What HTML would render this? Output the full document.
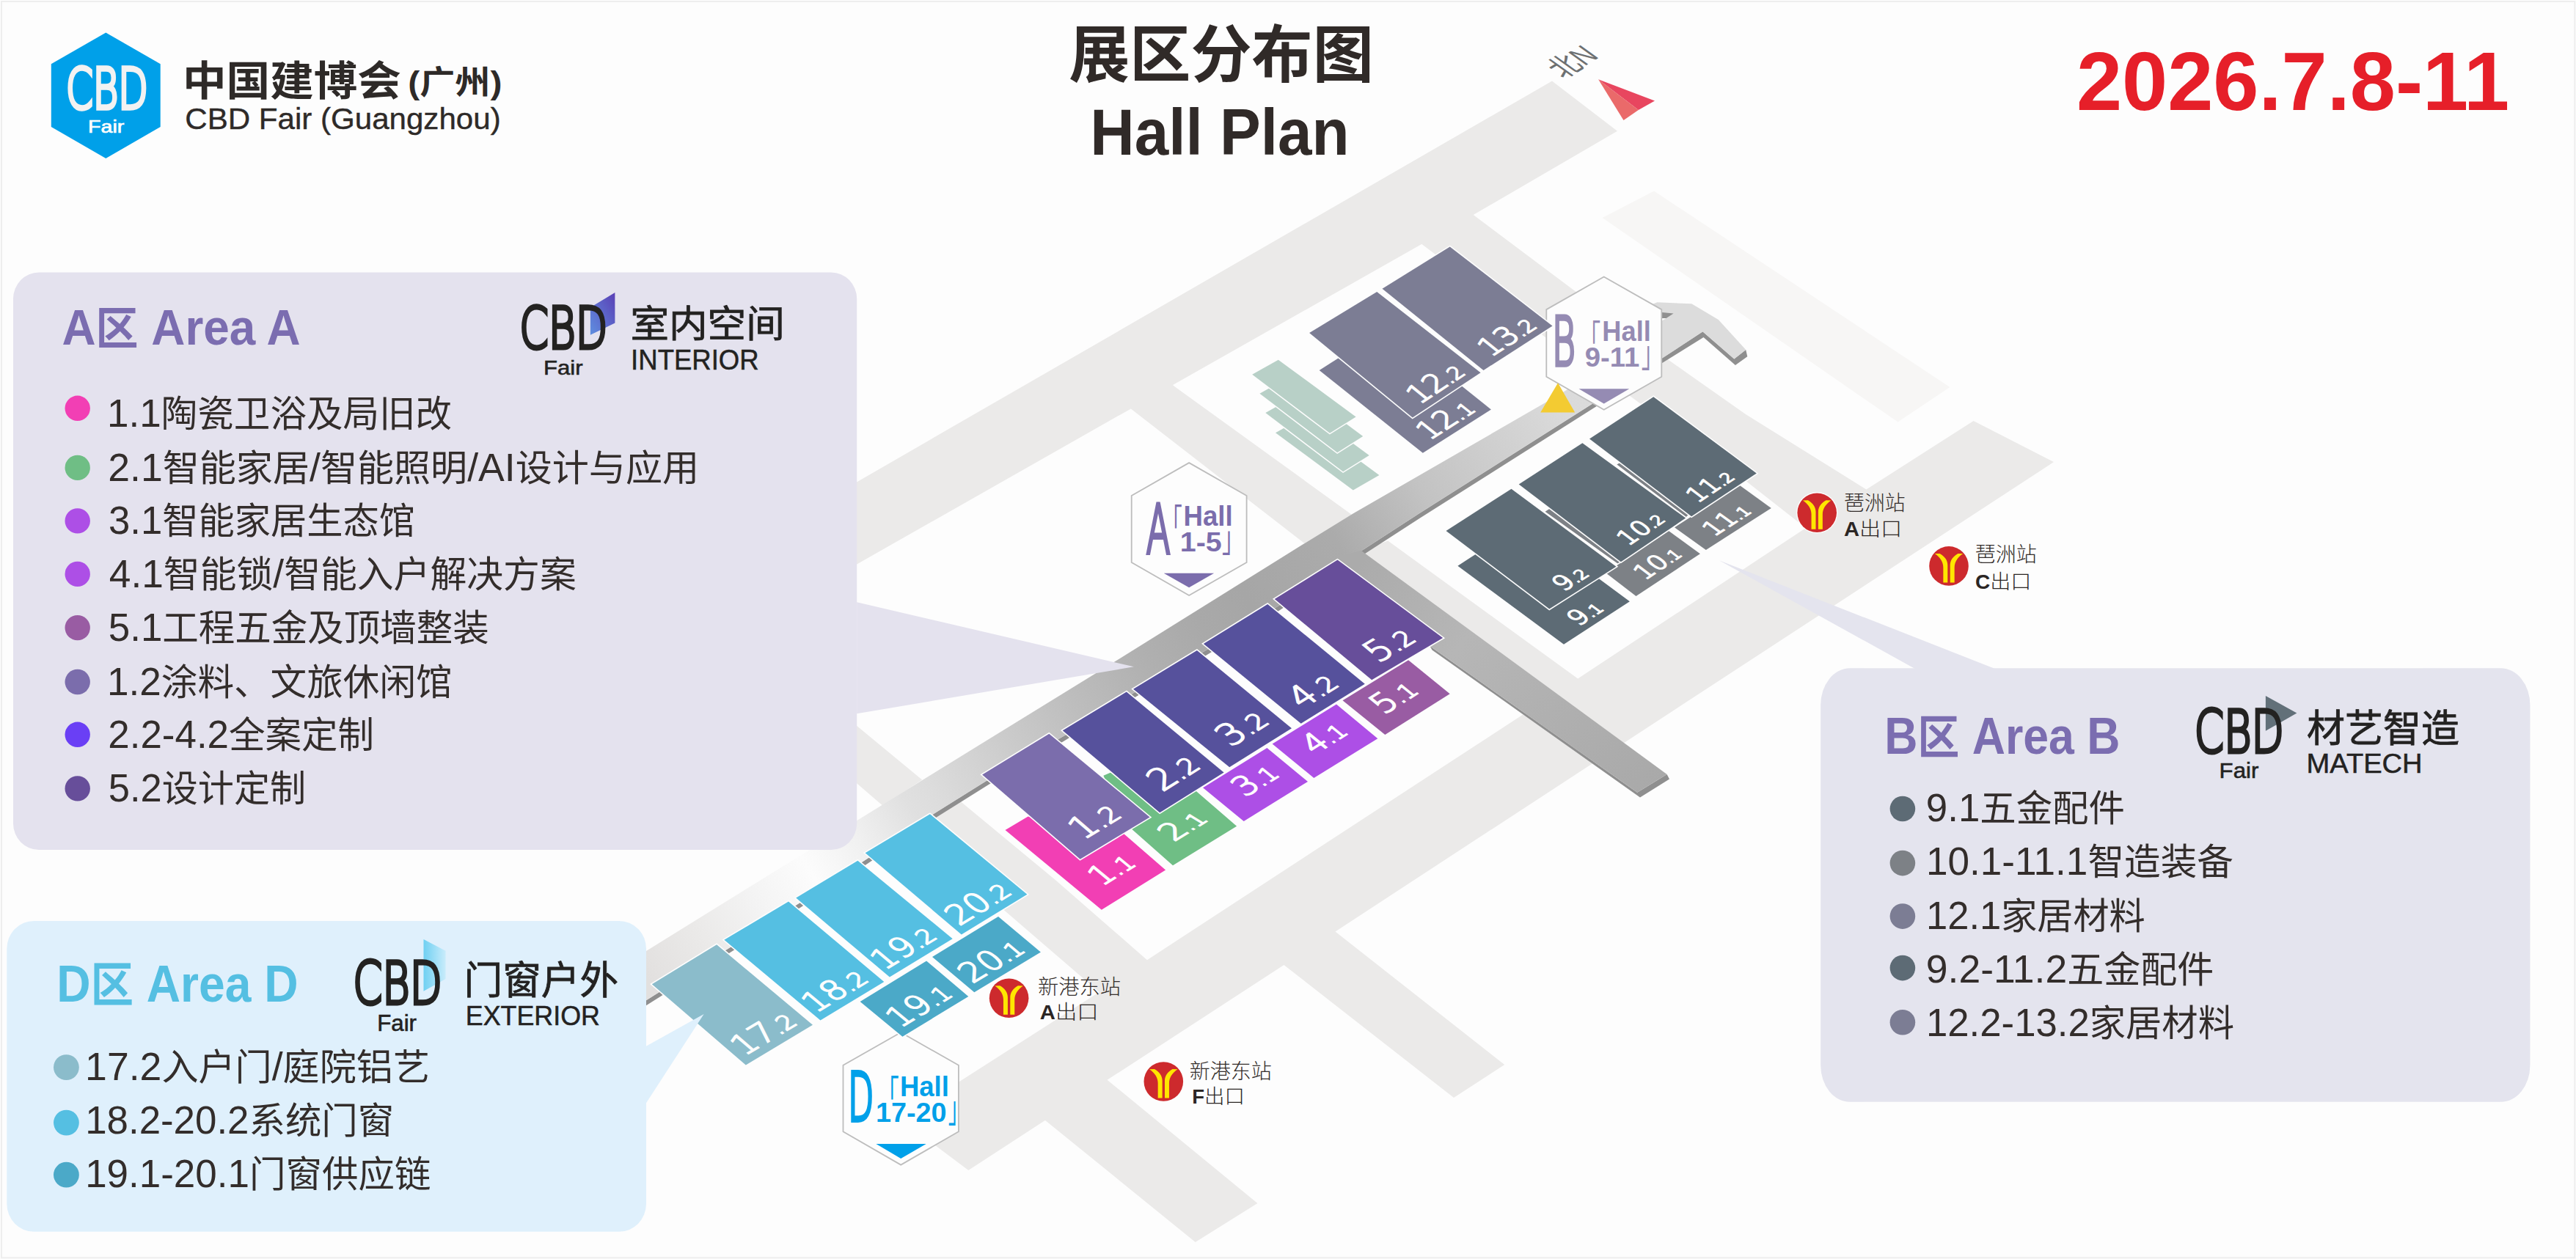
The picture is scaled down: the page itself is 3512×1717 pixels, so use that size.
<!DOCTYPE html>
<html lang="zh-CN"><head><meta charset="utf-8"><title>展区分布图 Hall Plan</title>
<style>
html,body{margin:0;padding:0;background:#fdfdfd;}
body{width:3512px;height:1717px;overflow:hidden;}
svg{display:block;}
text{white-space:pre;}
</style></head><body>
<svg width="3512" height="1717" viewBox="0 0 3512 1717">
<defs>
<linearGradient id="gc" gradientUnits="userSpaceOnUse" x1="880" y1="1330" x2="2250" y2="480"><stop offset="0" stop-color="#e2e0df"/><stop offset="0.06" stop-color="#ebeae9"/><stop offset="0.11" stop-color="#f3f3f3"/><stop offset="0.165" stop-color="#fcfcfc"/><stop offset="0.215" stop-color="#f0f0f0"/><stop offset="0.265" stop-color="#e0e0e0"/><stop offset="0.29" stop-color="#dcdcdc"/><stop offset="0.36" stop-color="#cccccc"/><stop offset="0.43" stop-color="#bdbdbd"/><stop offset="0.5" stop-color="#b0b0b0"/><stop offset="0.555" stop-color="#a9a9a9"/><stop offset="0.6" stop-color="#a6a6a6"/><stop offset="0.69" stop-color="#ababab"/><stop offset="0.775" stop-color="#c3c3c3"/><stop offset="0.845" stop-color="#cfcfcf"/><stop offset="0.91" stop-color="#dadada"/><stop offset="1" stop-color="#dddddd"/></linearGradient>
<linearGradient id="gb" gradientUnits="userSpaceOnUse" x1="1860" y1="760" x2="2260" y2="1070">
<stop offset="0" stop-color="#ababab"/><stop offset="0.35" stop-color="#b6b6b6"/><stop offset="1" stop-color="#a9a9a9"/>
</linearGradient>
<linearGradient id="gA" x1="0" y1="1" x2="1" y2="0"><stop offset="0" stop-color="#5f8fe0"/><stop offset="1" stop-color="#5a3fb5"/></linearGradient>
<linearGradient id="gD" x1="0" y1="0" x2="1" y2="0"><stop offset="0" stop-color="#6fd0f2"/><stop offset="1" stop-color="#c9ecfb"/></linearGradient>
</defs>
<rect x="0" y="0" width="3512" height="1717" fill="#fdfdfd"/>
<rect x="2" y="2" width="3508.3" height="1713.3" fill="none" stroke="#eeeeee" stroke-width="2"/>

<g id="roads">
<polygon points="2184.6,296.9 2255.1,260.6 2658.4,528.0 2587.5,575.6" fill="#f7f6f5" />
<path d="M1000.0,754.4 L2116.0,110.5 L2205.0,178.7 L2008.7,293.1 L1541.8,557.4 L1000.0,865.0 Z M1537.0,553.6 L1597.0,523.6 L1601.9,527.4 L1850.0,707.0 L1790.0,750.0 L1541.8,557.4 Z M1934.5,329.8 L2004.1,289.3 L2008.7,293.1 L2150.0,399.0 L2272.9,489.6 L2380.0,565.0 L2544.5,667.5 L2549.0,671.5 L2466.5,724.0 L2462.0,720.0 L2381.9,657.3 L2221.8,539.7 L2160.0,500.0 L1939.1,333.6 Z M2544.5,667.5 L2690.6,574.1 L2800.0,630.1 L1820.5,1270.4 L1320.3,1596.0 L1269.4,1557.7 L1307.7,1475.2 L1498.6,1353.0 L1563.9,1309.2 L2151.2,925.6 L2462.0,720.0 Z M1100.0,932.0 L1168.3,990.0 L1257.2,1063.6 L1203.2,1098.5 L1168.3,1068.5 L1100.0,1010.0 Z M1290.0,1076.0 L1314.4,1096.9 L1438.8,1200.0 L1563.9,1309.2 L1568.5,1313.0 L1503.2,1356.8 L1498.6,1353.0 L1203.2,1098.5 Z M1746.8,1312.9 L1815.9,1266.6 L1820.5,1270.4 L2051.2,1452.0 L1982.0,1497.0 L1751.4,1316.7 Z M1421.1,1524.6 L1505.8,1469.6 L1510.4,1473.4 L1714.4,1641.0 L1629.7,1694.1 L1425.7,1528.4 Z M1855.6,750.8 L1892.2,737.5 L2151.2,925.6 L2155.8,929.4 L2104.6,963.8 L2100.0,960.0 Z" fill="#ebeae9" fill-rule="nonzero"/>
</g>
<g id="corridor">
<polygon points="860.0,1377.5 995.1,1292.3 1089.6,1231.8 1182.1,1171.2 1272.5,1110.2 1348.7,1062.5 1450.4,1003.7 1547.7,943.7 1645.2,886.2 1743.1,826.2 1858.0,750.0 1936.0,699.5 2171.2,550.5 2230.0,513.5 2230.0,520.5 2171.2,557.5 1936.0,706.5 1858.0,757.0 1743.1,833.2 1645.2,893.2 1547.7,950.7 1450.4,1010.7 1348.7,1069.5 1272.5,1117.2 1182.1,1178.2 1089.6,1238.8 995.1,1299.3 860.0,1384.5" fill="#8f8f8f" />
<polygon points="860.0,1309.8 881.0,1296.9 1256.6,1064.4 1520.7,901.8 1776.5,742.3 1845.4,700.0 2120.0,541.5 2180.0,505.0 2230.0,513.5 2171.2,550.5 1936.0,699.5 1858.0,750.0 1743.1,826.2 1645.2,886.2 1547.7,943.7 1450.4,1003.7 1348.7,1062.5 1272.5,1110.2 1182.1,1171.2 1089.6,1231.8 995.1,1292.3 860.0,1377.5" fill="url(#gc)" />
<polygon points="1949.4,881.1 2232.2,1080.7 2272.6,1055.9 2276.0,1062.5 2236.0,1087.5 1952.5,886.5" fill="#8f8f8f" />
<polygon points="1823.5,759.0 1855.6,750.8 2272.6,1055.9 2232.2,1080.7 1949.4,881.1 1850.0,800.0" fill="url(#gb)" />
<polygon points="2264.6,489.6 2321.4,452.3 2364.3,489.6 2380.2,476.9 2382.3,486.3 2365.9,498.0 2322.5,459.9 2264.6,496.0" fill="#8f8f8f" />
<polygon points="2240.0,420.0 2259.4,412.3 2306.3,414.2 2342.8,436.1 2380.2,476.9 2364.3,489.6 2321.4,452.3 2264.6,489.6 2240.0,500.0" fill="#dcdcdc" />
<polygon points="2265.8,426.1 2281.6,427.4 2271.6,434.0 2265.8,434.0" fill="#8f8f8f" />
<polygon points="2265.8,434.0 2271.6,434.0 2265.8,437.5" fill="#fdfdfd" />
</g>
<g id="hex">
<polygon points="1621.1,631.1 1699.6,675.9 1699.6,767.0 1621.1,812.0 1542.7,767.0 1542.7,675.9" fill="#fdfdfd" stroke="#bdbdbd" stroke-width="1.8" stroke-linejoin="miter"/>
<polygon points="1586.7,781.8 1655.1,781.8 1621.1,801.2" fill="#7b6dac" />
<text transform="matrix(0.4726 0 0 0.9110 1562.98 753.60)" font-family="'DejaVu Sans',sans-serif" font-weight="200" font-size="100" fill="#7b6dac" stroke="#7b6dac" stroke-width="4.6" vector-effect="non-scaling-stroke" stroke-linejoin="miter">A</text>
<text transform="matrix(0.2794 0 0 0.4862 1583.64 730.12)" font-family="'Noto Sans CJK SC',sans-serif" font-weight="normal" font-size="100" fill="#7b6dac" >「</text>
<text transform="matrix(0.3665 0 0 0.3810 1613.42 716.62)" font-family="'Liberation Sans',sans-serif" font-weight="bold" font-size="100" fill="#7b6dac" >Hall</text>
<text transform="matrix(0.3941 0 0 0.3743 1608.84 751.93)" font-family="'Liberation Sans',sans-serif" font-weight="bold" font-size="100" fill="#7b6dac" >1-5</text>
<text transform="matrix(0.3016 0 0 0.4892 1665.94 751.50)" font-family="'Noto Sans CJK SC',sans-serif" font-weight="normal" font-size="100" fill="#7b6dac" >」</text>
<polygon points="2186.7,377.5 2265.3,422.1 2265.3,513.8 2186.7,558.8 2108.3,513.8 2108.3,422.1" fill="#fdfdfd" stroke="#bdbdbd" stroke-width="1.8" stroke-linejoin="miter"/>
<polygon points="2152.5,530.2 2221.3,530.2 2186.7,550.4" fill="#958bb3" />
<text transform="matrix(0.4870 0 0 0.9014 2116.11 497.70)" font-family="'DejaVu Sans',sans-serif" font-weight="200" font-size="100" fill="#958bb3" stroke="#958bb3" stroke-width="4.6" vector-effect="non-scaling-stroke" stroke-linejoin="miter">B</text>
<text transform="matrix(0.2889 0 0 0.4769 2153.22 478.04)" font-family="'Noto Sans CJK SC',sans-serif" font-weight="normal" font-size="100" fill="#958bb3" >「</text>
<text transform="matrix(0.3624 0 0 0.3796 2184.34 464.92)" font-family="'Liberation Sans',sans-serif" font-weight="bold" font-size="100" fill="#958bb3" >Hall</text>
<text transform="matrix(0.3836 0 0 0.3746 2160.66 500.33)" font-family="'Liberation Sans',sans-serif" font-weight="bold" font-size="100" fill="#958bb3" >9-11</text>
<text transform="matrix(0.3016 0 0 0.4969 2237.74 500.33)" font-family="'Noto Sans CJK SC',sans-serif" font-weight="normal" font-size="100" fill="#958bb3" >」</text>
<polygon points="1228.2,1408.0 1306.9,1452.8 1306.9,1543.3 1228.2,1588.6 1149.5,1543.3 1149.5,1452.8" fill="#fdfdfd" stroke="#bdbdbd" stroke-width="1.8" stroke-linejoin="miter"/>
<polygon points="1194.4,1560.0 1262.7,1560.0 1228.2,1579.9" fill="#00a0e9" />
<text transform="matrix(0.4531 0 0 0.9055 1156.26 1527.50)" font-family="'DejaVu Sans',sans-serif" font-weight="200" font-size="100" fill="#00a0e9" stroke="#00a0e9" stroke-width="4.6" vector-effect="non-scaling-stroke" stroke-linejoin="miter">D</text>
<text transform="matrix(0.3016 0 0 0.4892 1195.40 1508.68)" font-family="'Noto Sans CJK SC',sans-serif" font-weight="normal" font-size="100" fill="#00a0e9" >「</text>
<text transform="matrix(0.3647 0 0 0.3810 1226.93 1494.92)" font-family="'Liberation Sans',sans-serif" font-weight="bold" font-size="100" fill="#00a0e9" >Hall</text>
<text transform="matrix(0.3776 0 0 0.3732 1193.95 1530.23)" font-family="'Liberation Sans',sans-serif" font-weight="bold" font-size="100" fill="#00a0e9" >17-20</text>
<text transform="matrix(0.2762 0 0 0.5015 1292.73 1530.09)" font-family="'Noto Sans CJK SC',sans-serif" font-weight="normal" font-size="100" fill="#00a0e9" >」</text>
</g>
<g id="slabs" stroke="#fdfdfd" stroke-width="3" paint-order="stroke">
<polygon points="1774.6,570.2 1739.0,590.2 1844.8,668.6 1880.4,648.0" fill="#b8d0c7" />
<polygon points="1760.9,543.1 1725.3,563.1 1831.1,643.2 1866.7,621.0" fill="#b8d0c7" />
<polygon points="1753.0,516.8 1717.4,536.8 1823.2,617.2 1858.2,594.9" fill="#b8d0c7" />
<polygon points="1742.8,490.7 1707.2,510.7 1813.0,590.8 1848.6,568.5" fill="#b8d0c7" />
</g>
<g id="halls" stroke="#fdfdfd" stroke-width="3.2" stroke-linejoin="miter" paint-order="stroke">
<polygon points="2106.6,697.7 2112.3,693.9 2213.0,765.4 2207.6,770.1" fill="#7d8186" />
<polygon points="2204.4,633.5 2209.8,630.3 2303.6,700.2 2298.8,705.0" fill="#7d8186" />
<polygon points="1370.5,1132.0 1401.6,1113.6 1450.0,1120.0 1513.0,1120.3 1589.1,1186.6 1501.8,1240.7" fill="#f23fb4" />
<polygon points="1504.4,1057.7 1514.3,1053.5 1590.0,1095.0 1611.5,1062.3 1686.1,1126.7 1599.0,1180.3 1530.0,1119.3" fill="#6fbe85" />
<polygon points="1727.4,1020.1 1640.0,1074.2 1695.7,1119.9 1783.0,1065.9" fill="#ad4fe6" />
<polygon points="1822.0,960.5 1734.6,1014.5 1791.3,1061.0 1878.3,1007.2" fill="#ad4fe6" />
<polygon points="1920.1,900.2 1830.5,955.2 1888.3,1001.9 1976.7,946.3" fill="#995ca3" />
<polygon points="1430.3,1000.7 1339.1,1056.4 1472.6,1171.7 1567.6,1114.5" fill="#7b6dac" />
<polygon points="1535.8,943.5 1448.7,996.3 1581.2,1108.2 1668.6,1053.5" fill="#56519c" />
<polygon points="1631.9,886.9 1545.0,939.8 1676.2,1046.3 1761.0,993.2" fill="#56519c" />
<polygon points="1728.2,823.9 1640.8,878.0 1773.7,986.7 1860.8,932.7" fill="#56519c" />
<polygon points="1823.5,763.6 1737.7,817.0 1870.2,927.2 1967.2,870.0" fill="#674e9a" />
<polygon points="977.1,1288.2 888.8,1342.2 1016.8,1452.4 1108.0,1397.8" fill="#8bbccb" />
<polygon points="1075.0,1229.4 987.3,1281.8 1118.5,1391.4 1205.3,1339.0" fill="#55bfe2" />
<polygon points="1263.1,1310.4 1172.6,1366.0 1230.4,1413.7 1320.3,1359.0" fill="#4ba9c8" />
<polygon points="1361.0,1250.0 1271.0,1305.0 1328.3,1353.3 1418.9,1298.6" fill="#4ba9c8" />
<polygon points="1169.4,1173.7 1085.2,1224.6 1212.9,1332.6 1298.7,1280.2" fill="#55bfe2" />
<polygon points="1267.9,1110.2 1179.6,1163.3 1310.8,1274.5 1400.4,1219.8" fill="#55bfe2" />
<polygon points="2077.3,713.2 1987.4,771.7 2132.0,878.8 2221.9,820.3" fill="#5d6b75" />
<polygon points="2275.0,724.0 2189.2,781.2 2230.5,813.0 2317.9,755.2" fill="#7d8186" />
<polygon points="2372.0,662.0 2283.0,719.3 2325.8,750.1 2414.8,692.9" fill="#7d8186" />
<polygon points="2060.5,666.8 1971.5,724.0 2112.3,830.5 2203.5,772.7" fill="#5d6b75" />
<polygon points="2157.4,604.2 2070.7,660.5 2209.9,766.3 2298.2,706.6" fill="#5d6b75" />
<polygon points="2254.3,541.3 2167.0,598.5 2306.1,704.3 2394.8,645.6" fill="#5d6b75" />
<polygon points="1891.8,445.6 1798.7,505.0 1939.8,617.8 2032.9,558.4" fill="#7c7d94" />
<polygon points="1877.2,397.9 1785.1,454.1 1925.8,569.5 2018.6,508.2" fill="#7c7d94" />
<polygon points="1976.7,336.5 1884.5,393.7 2022.5,505.0 2116.5,444.6" fill="#7c7d94" />
</g>
<g id="labels">
<text transform="matrix(0.8500 -0.5268 0.7703 0.6377 1501.8 1240.7)" x="82.7" y="-28.0" text-anchor="end" font-family="'DejaVu Sans','Liberation Sans',sans-serif" font-weight="200" stroke="#fdfdfd" stroke-width="2" font-size="43" fill="#fdfdfd">1<tspan font-size="31.0">.1</tspan></text>
<text transform="matrix(0.8517 -0.5241 0.8527 0.5224 1599.0 1180.3)" x="88.3" y="-30.0" text-anchor="end" font-family="'DejaVu Sans','Liberation Sans',sans-serif" font-weight="200" stroke="#fdfdfd" stroke-width="2" font-size="43" fill="#fdfdfd">2<tspan font-size="31.0">.1</tspan></text>
<text transform="matrix(0.8505 -0.5261 0.7731 0.6343 1695.7 1119.9)" x="84.7" y="-28.0" text-anchor="end" font-family="'DejaVu Sans','Liberation Sans',sans-serif" font-weight="200" stroke="#fdfdfd" stroke-width="2" font-size="43" fill="#fdfdfd">3<tspan font-size="31.0">.1</tspan></text>
<text transform="matrix(0.8505 -0.5260 0.7732 0.6341 1791.3 1061.0)" x="82.3" y="-28.0" text-anchor="end" font-family="'DejaVu Sans','Liberation Sans',sans-serif" font-weight="200" stroke="#fdfdfd" stroke-width="2" font-size="42" fill="#fdfdfd">4<tspan font-size="30.2">.1</tspan></text>
<text transform="matrix(0.8465 -0.5324 0.7778 0.6285 1888.3 1001.9)" x="79.4" y="-25.0" text-anchor="end" font-family="'DejaVu Sans','Liberation Sans',sans-serif" font-weight="200" stroke="#fdfdfd" stroke-width="2" font-size="44" fill="#fdfdfd">5<tspan font-size="31.7">.1</tspan></text>
<text transform="matrix(0.8567 -0.5158 0.7568 0.6536 1472.6 1171.7)" x="86.9" y="-21.0" text-anchor="end" font-family="'DejaVu Sans','Liberation Sans',sans-serif" font-weight="200" stroke="#fdfdfd" stroke-width="2" font-size="48" fill="#fdfdfd">1<tspan font-size="34.6">.2</tspan></text>
<text transform="matrix(0.8477 -0.5305 0.7640 0.6452 1581.2 1108.2)" x="88.1" y="-23.0" text-anchor="end" font-family="'DejaVu Sans','Liberation Sans',sans-serif" font-weight="200" stroke="#fdfdfd" stroke-width="2" font-size="48" fill="#fdfdfd">2<tspan font-size="34.6">.2</tspan></text>
<text transform="matrix(0.8475 -0.5307 0.7764 0.6302 1676.2 1046.3)" x="87.1" y="-23.0" text-anchor="end" font-family="'DejaVu Sans','Liberation Sans',sans-serif" font-weight="200" stroke="#fdfdfd" stroke-width="2" font-size="48" fill="#fdfdfd">3<tspan font-size="34.6">.2</tspan></text>
<text transform="matrix(0.8499 -0.5269 0.7741 0.6331 1773.7 986.7)" x="78.5" y="-17.0" text-anchor="end" font-family="'DejaVu Sans','Liberation Sans',sans-serif" font-weight="200" stroke="#fdfdfd" stroke-width="2" font-size="46" fill="#fdfdfd">4<tspan font-size="33.1">.2</tspan></text>
<text transform="matrix(0.8614 -0.5080 0.7688 0.6394 1870.2 927.2)" x="86.6" y="-16.0" text-anchor="end" font-family="'DejaVu Sans','Liberation Sans',sans-serif" font-weight="200" stroke="#fdfdfd" stroke-width="2" font-size="47" fill="#fdfdfd">5<tspan font-size="33.8">.2</tspan></text>
<text transform="matrix(0.8580 -0.5137 0.7578 0.6524 1016.8 1452.4)" x="94.3" y="-12.0" text-anchor="end" font-family="'DejaVu Sans','Liberation Sans',sans-serif" font-weight="200" stroke="#fdfdfd" stroke-width="2" font-size="44" fill="#fdfdfd">17<tspan font-size="31.7">.2</tspan></text>
<text transform="matrix(0.8561 -0.5168 0.7675 0.6411 1118.5 1391.4)" x="89.4" y="-12.0" text-anchor="end" font-family="'DejaVu Sans','Liberation Sans',sans-serif" font-weight="200" stroke="#fdfdfd" stroke-width="2" font-size="44" fill="#fdfdfd">18<tspan font-size="31.7">.2</tspan></text>
<text transform="matrix(0.8543 -0.5198 0.7713 0.6365 1230.4 1413.7)" x="93.2" y="-12.0" text-anchor="end" font-family="'DejaVu Sans','Liberation Sans',sans-serif" font-weight="200" stroke="#fdfdfd" stroke-width="2" font-size="44" fill="#fdfdfd">19<tspan font-size="31.7">.1</tspan></text>
<text transform="matrix(0.8561 -0.5169 0.7646 0.6445 1328.3 1353.3)" x="93.8" y="-12.0" text-anchor="end" font-family="'DejaVu Sans','Liberation Sans',sans-serif" font-weight="200" stroke="#fdfdfd" stroke-width="2" font-size="44" fill="#fdfdfd">20<tspan font-size="31.7">.1</tspan></text>
<text transform="matrix(0.8534 -0.5212 0.7635 0.6458 1212.9 1332.6)" x="88.5" y="-12.0" text-anchor="end" font-family="'DejaVu Sans','Liberation Sans',sans-serif" font-weight="200" stroke="#fdfdfd" stroke-width="2" font-size="44" fill="#fdfdfd">19<tspan font-size="31.7">.2</tspan></text>
<text transform="matrix(0.8535 -0.5211 0.7629 0.6466 1310.8 1274.5)" x="93.0" y="-12.0" text-anchor="end" font-family="'DejaVu Sans','Liberation Sans',sans-serif" font-weight="200" stroke="#fdfdfd" stroke-width="2" font-size="44" fill="#fdfdfd">20<tspan font-size="31.7">.2</tspan></text>
<text transform="matrix(0.8382 -0.5454 0.8036 0.5952 2132.0 878.8)" x="76.3" y="-10.0" text-anchor="end" font-family="'DejaVu Sans','Liberation Sans',sans-serif" font-weight="200" stroke="#fdfdfd" stroke-width="2" font-size="34" fill="#fdfdfd">9<tspan font-size="22.1">.1</tspan></text>
<text transform="matrix(0.8341 -0.5516 0.7923 0.6101 2230.5 813.0)" x="87.8" y="-12.0" text-anchor="end" font-family="'DejaVu Sans','Liberation Sans',sans-serif" font-weight="200" stroke="#fdfdfd" stroke-width="2" font-size="33" fill="#fdfdfd">10<tspan font-size="21.4">.1</tspan></text>
<text transform="matrix(0.8412 -0.5407 0.8117 0.5841 2325.8 750.1)" x="84.8" y="-10.0" text-anchor="end" font-family="'DejaVu Sans','Liberation Sans',sans-serif" font-weight="200" stroke="#fdfdfd" stroke-width="2" font-size="33" fill="#fdfdfd">11<tspan font-size="21.4">.1</tspan></text>
<text transform="matrix(0.8447 -0.5353 0.7975 0.6033 2112.3 830.5)" x="75.0" y="-10.0" text-anchor="end" font-family="'DejaVu Sans','Liberation Sans',sans-serif" font-weight="200" stroke="#fdfdfd" stroke-width="2" font-size="34" fill="#fdfdfd">9<tspan font-size="22.1">.2</tspan></text>
<text transform="matrix(0.8284 -0.5601 0.7961 0.6051 2209.9 766.3)" x="86.6" y="-13.0" text-anchor="end" font-family="'DejaVu Sans','Liberation Sans',sans-serif" font-weight="200" stroke="#fdfdfd" stroke-width="2" font-size="33" fill="#fdfdfd">10<tspan font-size="21.4">.2</tspan></text>
<text transform="matrix(0.8339 -0.5519 0.7959 0.6054 2306.1 704.3)" x="82.4" y="-11.0" text-anchor="end" font-family="'DejaVu Sans','Liberation Sans',sans-serif" font-weight="200" stroke="#fdfdfd" stroke-width="2" font-size="33" fill="#fdfdfd">11<tspan font-size="21.4">.2</tspan></text>
<text transform="matrix(0.8430 -0.5379 0.7811 0.6244 1939.8 617.8)" x="96.4" y="-10.0" text-anchor="end" font-family="'DejaVu Sans','Liberation Sans',sans-serif" font-weight="200" stroke="#fdfdfd" stroke-width="2" font-size="40" fill="#fdfdfd">12<tspan font-size="27.2">.1</tspan></text>
<text transform="matrix(0.8344 -0.5512 0.7732 0.6342 1925.8 569.5)" x="97.2" y="-10.0" text-anchor="end" font-family="'DejaVu Sans','Liberation Sans',sans-serif" font-weight="200" stroke="#fdfdfd" stroke-width="2" font-size="40" fill="#fdfdfd">12<tspan font-size="27.2">.2</tspan></text>
<text transform="matrix(0.8413 -0.5406 0.7784 0.6278 2022.5 505.0)" x="97.7" y="-10.0" text-anchor="end" font-family="'DejaVu Sans','Liberation Sans',sans-serif" font-weight="200" stroke="#fdfdfd" stroke-width="2" font-size="40" fill="#fdfdfd">13<tspan font-size="27.2">.2</tspan></text>
</g>
<polygon points="2124.0,522.2 2100.2,562.6 2147.2,562.6" fill="#f3cb32" />
<g id="metro">
<g>
<circle cx="1375.6" cy="1361.2" r="28.1" fill="#fdfdfd"/>
<circle cx="1375.6" cy="1361.2" r="26.8" fill="#cd2a2d"/>
<g transform="translate(1375.6 1361.2) scale(0.993)" fill="#ffe600"><path d="M-19.4,-16.9 L-12.4,-17.1 C-5.5,-13 -1.7,-8 -1.7,-1 L-1.7,22.7 L-7.7,22.7 L-7.7,2 C-7.7,-5 -11.5,-11.5 -19.4,-16.9 Z"/><path d="M19.4,-16.9 L12.4,-17.1 C5.5,-13 1.7,-8 1.7,-1 L1.7,22.7 L7.7,22.7 L7.7,2 C7.7,-5 11.5,-11.5 19.4,-16.9 Z"/></g></g>
<text transform="matrix(0.2825 0 0 0.2852 1415.09 1355.86)" font-family="'Liberation Sans','Noto Sans CJK SC',sans-serif" font-weight="300" font-size="100" fill="#332d2b" >新港东站</text>
<text transform="matrix(0.2926 0 0 0.2681 1417.87 1389.89)" font-family="'Liberation Sans','Noto Sans CJK SC',sans-serif" font-weight="300" font-size="100" fill="#2b2624" ><tspan font-weight="900">A</tspan>出口</text>
<g>
<circle cx="1586.3" cy="1475" r="26.8" fill="#cd2a2d"/>
<g transform="translate(1586.3 1475) scale(0.993)" fill="#ffe600"><path d="M-19.4,-16.9 L-12.4,-17.1 C-5.5,-13 -1.7,-8 -1.7,-1 L-1.7,22.7 L-7.7,22.7 L-7.7,2 C-7.7,-5 -11.5,-11.5 -19.4,-16.9 Z"/><path d="M19.4,-16.9 L12.4,-17.1 C5.5,-13 1.7,-8 1.7,-1 L1.7,22.7 L7.7,22.7 L7.7,2 C7.7,-5 11.5,-11.5 19.4,-16.9 Z"/></g></g>
<text transform="matrix(0.2804 0 0 0.2852 1621.80 1470.96)" font-family="'Liberation Sans','Noto Sans CJK SC',sans-serif" font-weight="300" font-size="100" fill="#332d2b" >新港东站</text>
<text transform="matrix(0.2747 0 0 0.2758 1625.31 1505.03)" font-family="'Liberation Sans','Noto Sans CJK SC',sans-serif" font-weight="300" font-size="100" fill="#2b2624" ><tspan font-weight="900">F</tspan>出口</text>
<g>
<circle cx="2477.2" cy="699.2" r="28.1" fill="#fdfdfd"/>
<circle cx="2477.2" cy="699.2" r="26.8" fill="#cd2a2d"/>
<g transform="translate(2477.2 699.2) scale(0.993)" fill="#ffe600"><path d="M-19.4,-16.9 L-12.4,-17.1 C-5.5,-13 -1.7,-8 -1.7,-1 L-1.7,22.7 L-7.7,22.7 L-7.7,2 C-7.7,-5 -11.5,-11.5 -19.4,-16.9 Z"/><path d="M19.4,-16.9 L12.4,-17.1 C5.5,-13 1.7,-8 1.7,-1 L1.7,22.7 L7.7,22.7 L7.7,2 C7.7,-5 11.5,-11.5 19.4,-16.9 Z"/></g></g>
<text transform="matrix(0.2788 0 0 0.2802 2514.01 696.40)" font-family="'Liberation Sans','Noto Sans CJK SC',sans-serif" font-weight="300" font-size="100" fill="#332d2b" >琶洲站</text>
<text transform="matrix(0.2914 0 0 0.2747 2513.97 730.54)" font-family="'Liberation Sans','Noto Sans CJK SC',sans-serif" font-weight="300" font-size="100" fill="#2b2624" ><tspan font-weight="900">A</tspan>出口</text>
<g>
<circle cx="2657" cy="771.9" r="26.8" fill="#cd2a2d"/>
<g transform="translate(2657 771.9) scale(0.993)" fill="#ffe600"><path d="M-19.4,-16.9 L-12.4,-17.1 C-5.5,-13 -1.7,-8 -1.7,-1 L-1.7,22.7 L-7.7,22.7 L-7.7,2 C-7.7,-5 -11.5,-11.5 -19.4,-16.9 Z"/><path d="M19.4,-16.9 L12.4,-17.1 C5.5,-13 1.7,-8 1.7,-1 L1.7,22.7 L7.7,22.7 L7.7,2 C7.7,-5 11.5,-11.5 19.4,-16.9 Z"/></g></g>
<text transform="matrix(0.2809 0 0 0.2802 2692.70 765.50)" font-family="'Liberation Sans','Noto Sans CJK SC',sans-serif" font-weight="300" font-size="100" fill="#332d2b" >琶洲站</text>
<text transform="matrix(0.2809 0 0 0.2714 2692.98 802.96)" font-family="'Liberation Sans','Noto Sans CJK SC',sans-serif" font-weight="300" font-size="100" fill="#2b2624" ><tspan font-weight="900">C</tspan>出口</text>
</g>
<g id="panelA">
<path d="M1168.2,821.3 L1545.8,909.3 L1168.2,973.2 Z" fill="#e4e2ee"/>
<rect x="18" y="371.5" width="1150.2" height="787.5" rx="35" ry="36" fill="#e4e2ee"/>
<text transform="matrix(0.5803 0 0 0.6183 84.46 469.68)" font-family="'Liberation Sans','Noto Sans CJK SC',sans-serif" font-weight="bold" font-size="100" fill="#7b6db0" ><tspan font-size="1.10em">A</tspan>区<tspan font-size="1.10em"> Area A</tspan></text>
<polygon points="804.9,419.2 838.4,399.0 838.4,440.6 804.9,456.7" fill="url(#gA)" />
<text transform="matrix(0.5657 0 0 0.7868 708.19 474.72)" font-family="'DejaVu Sans',sans-serif" font-weight="200" font-size="100" fill="#232221" stroke="#232221" stroke-width="4.4" vector-effect="non-scaling-stroke" stroke-linejoin="miter">CBD</text>
<text transform="matrix(0.3108 0 0 0.2748 741.01 510.93)" font-family="'Liberation Sans',sans-serif" font-weight="normal" font-size="100" fill="#232221" stroke="#232221" stroke-width="0.6" vector-effect="non-scaling-stroke">Fair</text>
<text transform="matrix(0.5258 0 0 0.5102 859.45 460.46)" font-family="'Liberation Sans','Noto Sans CJK SC',sans-serif" font-weight="normal" font-size="100" fill="#232221" stroke="#232221" stroke-width="0.8" vector-effect="non-scaling-stroke">室内空间</text>
<text transform="matrix(0.3655 0 0 0.3803 860.11 503.52)" font-family="'Liberation Sans','Noto Sans CJK SC',sans-serif" font-weight="normal" font-size="100" fill="#232221" stroke="#232221" stroke-width="0.5" vector-effect="non-scaling-stroke">INTERIOR</text>
<circle cx="105.7" cy="556.8" r="17.2" fill="#f23fb4"/>
<text transform="matrix(0.4956 0 0 0.5000 146.04 582.30)" font-family="'Liberation Sans','Noto Sans CJK SC',sans-serif" font-weight="normal" font-size="100" fill="#332d2b" ><tspan font-size="1.07em">1.1</tspan>陶瓷卫浴及局旧改</text>
<circle cx="105.7" cy="637.9" r="17.2" fill="#6fbe85"/>
<text transform="matrix(0.5008 0 0 0.5000 147.25 655.60)" font-family="'Liberation Sans','Noto Sans CJK SC',sans-serif" font-weight="normal" font-size="100" fill="#332d2b" ><tspan font-size="1.07em">2.1</tspan>智能家居<tspan font-size="1.07em">/</tspan>智能照明<tspan font-size="1.07em">/AI</tspan>设计与应用</text>
<circle cx="105.7" cy="710.4" r="17.2" fill="#ad4fe6"/>
<text transform="matrix(0.4924 0 0 0.5000 148.03 728.10)" font-family="'Liberation Sans','Noto Sans CJK SC',sans-serif" font-weight="normal" font-size="100" fill="#332d2b" ><tspan font-size="1.07em">3.1</tspan>智能家居生态馆</text>
<circle cx="105.7" cy="782.9" r="17.2" fill="#ad4fe6"/>
<text transform="matrix(0.4983 0 0 0.5000 148.75 800.90)" font-family="'Liberation Sans','Noto Sans CJK SC',sans-serif" font-weight="normal" font-size="100" fill="#332d2b" ><tspan font-size="1.07em">4.1</tspan>智能锁<tspan font-size="1.07em">/</tspan>智能入户解决方案</text>
<circle cx="105.7" cy="856.1" r="17.2" fill="#995ca3"/>
<text transform="matrix(0.4948 0 0 0.5000 147.77 874.20)" font-family="'Liberation Sans','Noto Sans CJK SC',sans-serif" font-weight="normal" font-size="100" fill="#332d2b" ><tspan font-size="1.07em">5.1</tspan>工程五金及顶墙整装</text>
<circle cx="105.7" cy="930" r="17.2" fill="#7b6dac"/>
<text transform="matrix(0.4961 0 0 0.5000 146.03 947.60)" font-family="'Liberation Sans','Noto Sans CJK SC',sans-serif" font-weight="normal" font-size="100" fill="#332d2b" ><tspan font-size="1.07em">1.2</tspan>涂料、文旅休闲馆</text>
<circle cx="105.7" cy="1001.8" r="17.2" fill="#6a3ff5"/>
<text transform="matrix(0.4947 0 0 0.5000 147.28 1019.60)" font-family="'Liberation Sans','Noto Sans CJK SC',sans-serif" font-weight="normal" font-size="100" fill="#332d2b" ><tspan font-size="1.07em">2.2-4.2</tspan>全案定制</text>
<circle cx="105.7" cy="1075.4" r="17.2" fill="#674e9a"/>
<text transform="matrix(0.4909 0 0 0.5000 147.79 1093.20)" font-family="'Liberation Sans','Noto Sans CJK SC',sans-serif" font-weight="normal" font-size="100" fill="#332d2b" ><tspan font-size="1.07em">5.2</tspan>设计定制</text>
</g>
<g id="panelB">
<path d="M2612.5,913 L2343.9,764.3 L2722.3,913 Z" fill="#e4e4ee"/>
<rect x="2482.2" y="911.3" width="967.2" height="591.5" rx="40" ry="50" fill="#e4e4ee"/>
<text transform="matrix(0.5688 0 0 0.6343 2569.33 1027.98)" font-family="'Liberation Sans','Noto Sans CJK SC',sans-serif" font-weight="bold" font-size="100" fill="#7b6db0" ><tspan font-size="1.10em">B</tspan>区<tspan font-size="1.10em"> Area B</tspan></text>
<polygon points="3088.9,949.0 3131.4,972.5 3088.9,996.8" fill="#627079" />
<text transform="matrix(0.5744 0 0 0.8000 2991.82 1025.80)" font-family="'DejaVu Sans',sans-serif" font-weight="200" font-size="100" fill="#232221" stroke="#232221" stroke-width="4.4" vector-effect="non-scaling-stroke" stroke-linejoin="miter">CBD</text>
<text transform="matrix(0.3120 0 0 0.3034 3025.60 1061.40)" font-family="'Liberation Sans',sans-serif" font-weight="normal" font-size="100" fill="#232221" stroke="#232221" stroke-width="0.6" vector-effect="non-scaling-stroke">Fair</text>
<text transform="matrix(0.5196 0 0 0.5254 3145.10 1011.70)" font-family="'Liberation Sans','Noto Sans CJK SC',sans-serif" font-weight="normal" font-size="100" fill="#232221" stroke="#232221" stroke-width="0.8" vector-effect="non-scaling-stroke">材艺智造</text>
<text transform="matrix(0.3812 0 0 0.3718 3144.55 1054.43)" font-family="'Liberation Sans','Noto Sans CJK SC',sans-serif" font-weight="normal" font-size="100" fill="#232221" stroke="#232221" stroke-width="0.5" vector-effect="non-scaling-stroke">MATECH</text>
<circle cx="2593.9" cy="1103" r="17.3" fill="#5d6b75"/>
<text transform="matrix(0.4939 0 0 0.5000 2625.83 1120.20)" font-family="'Liberation Sans','Noto Sans CJK SC',sans-serif" font-weight="normal" font-size="100" fill="#332d2b" ><tspan font-size="1.07em">9.1</tspan>五金配件</text>
<circle cx="2593.9" cy="1177.1" r="17.3" fill="#7d8186"/>
<text transform="matrix(0.4965 0 0 0.5000 2625.93 1193.00)" font-family="'Liberation Sans','Noto Sans CJK SC',sans-serif" font-weight="normal" font-size="100" fill="#332d2b" ><tspan font-size="1.07em">10.1-11.1</tspan>智造装备</text>
<circle cx="2593.9" cy="1249.6" r="17.3" fill="#7c7d94"/>
<text transform="matrix(0.4910 0 0 0.5000 2625.97 1266.60)" font-family="'Liberation Sans','Noto Sans CJK SC',sans-serif" font-weight="normal" font-size="100" fill="#332d2b" ><tspan font-size="1.07em">12.1</tspan>家居材料</text>
<circle cx="2593.9" cy="1320.1" r="17.3" fill="#5d6b75"/>
<text transform="matrix(0.5003 0 0 0.5000 2625.80 1339.80)" font-family="'Liberation Sans','Noto Sans CJK SC',sans-serif" font-weight="normal" font-size="100" fill="#332d2b" ><tspan font-size="1.07em">9.2-11.2</tspan>五金配件</text>
<circle cx="2593.9" cy="1394.2" r="17.3" fill="#7c7d94"/>
<text transform="matrix(0.4930 0 0 0.5000 2625.96 1413.00)" font-family="'Liberation Sans','Noto Sans CJK SC',sans-serif" font-weight="normal" font-size="100" fill="#332d2b" ><tspan font-size="1.07em">12.2-13.2</tspan>家居材料</text>
</g>
<g id="panelD">
<path d="M880.5,1426.9 L959.6,1383 L880.5,1505.1 Z" fill="#dff0fc"/>
<rect x="9.3" y="1255.9" width="871.7" height="423.9" rx="37" ry="38" fill="#dff0fc"/>
<text transform="matrix(0.5832 0 0 0.6480 77.33 1365.89)" font-family="'Liberation Sans','Noto Sans CJK SC',sans-serif" font-weight="bold" font-size="100" fill="#55bfe2" ><tspan font-size="1.10em">D</tspan>区<tspan font-size="1.10em"> Area D</tspan></text>
<polygon points="577.5,1281.0 607.6,1296.7 607.6,1335.1 577.5,1351.8" fill="url(#gD)" />
<text transform="matrix(0.5719 0 0 0.7947 481.34 1369.41)" font-family="'DejaVu Sans',sans-serif" font-weight="200" font-size="100" fill="#232221" stroke="#232221" stroke-width="4.4" vector-effect="non-scaling-stroke" stroke-linejoin="miter">CBD</text>
<text transform="matrix(0.3126 0 0 0.3088 514.20 1405.89)" font-family="'Liberation Sans',sans-serif" font-weight="normal" font-size="100" fill="#232221" stroke="#232221" stroke-width="0.6" vector-effect="non-scaling-stroke">Fair</text>
<text transform="matrix(0.5264 0 0 0.5387 632.60 1355.52)" font-family="'Liberation Sans','Noto Sans CJK SC',sans-serif" font-weight="normal" font-size="100" fill="#232221" stroke="#232221" stroke-width="0.8" vector-effect="non-scaling-stroke">门窗户外</text>
<text transform="matrix(0.3586 0 0 0.3761 634.73 1398.12)" font-family="'Liberation Sans','Noto Sans CJK SC',sans-serif" font-weight="normal" font-size="100" fill="#232221" stroke="#232221" stroke-width="0.5" vector-effect="non-scaling-stroke">EXTERIOR</text>
<circle cx="90.4" cy="1455.6" r="17.4" fill="#8bbccb"/>
<text transform="matrix(0.5010 0 0 0.5000 116.09 1472.60)" font-family="'Liberation Sans','Noto Sans CJK SC',sans-serif" font-weight="normal" font-size="100" fill="#332d2b" ><tspan font-size="1.07em">17.2</tspan>入户门<tspan font-size="1.07em">/</tspan>庭院铝艺</text>
<circle cx="90.4" cy="1531.1" r="17.4" fill="#55bfe2"/>
<text transform="matrix(0.4941 0 0 0.5000 116.15 1545.70)" font-family="'Liberation Sans','Noto Sans CJK SC',sans-serif" font-weight="normal" font-size="100" fill="#332d2b" ><tspan font-size="1.07em">18.2-20.2</tspan>系统门窗</text>
<circle cx="90.4" cy="1602.2" r="17.4" fill="#4ba9c8"/>
<text transform="matrix(0.4950 0 0 0.5000 116.14 1618.90)" font-family="'Liberation Sans','Noto Sans CJK SC',sans-serif" font-weight="normal" font-size="100" fill="#332d2b" ><tspan font-size="1.07em">19.1-20.1</tspan>门窗供应链</text>
</g>
<g id="header">
<polygon points="144.3,44.6 218.7,87.3 218.7,173.1 144.3,215.9 69.8,173.1 69.8,87.3" fill="#00a0e9" />
<text transform="matrix(0.5263 0 0 0.7576 89.93 147.66)" font-family="'DejaVu Sans',sans-serif" font-weight="200" font-size="100" fill="#f2f2f2" stroke="#f2f2f2" stroke-width="4.8" vector-effect="non-scaling-stroke" stroke-linejoin="miter">CBD</text>
<text transform="matrix(0.2855 0 0 0.2408 120.12 181.36)" font-family="'Liberation Sans',sans-serif" font-weight="normal" font-size="100" fill="#fdfdfd" stroke="#fdfdfd" stroke-width="0.8" vector-effect="non-scaling-stroke">Fair</text>
<text transform="matrix(0.5959 0 0 0.5587 249.04 129.77)" font-family="'Liberation Sans','Noto Sans CJK SC',sans-serif" font-weight="bold" font-size="100" fill="#2e2a28" >中国建博会</text>
<text transform="matrix(0.4807 0 0 0.4460 556.30 128.13)" font-family="'Liberation Sans','Noto Sans CJK SC',sans-serif" font-weight="bold" font-size="100" fill="#2e2a28" >(广州)</text>
<text transform="matrix(0.4210 0 0 0.4064 252.30 176.47)" font-family="'Liberation Sans','Noto Sans CJK SC',sans-serif" font-weight="normal" font-size="100" fill="#2e2a28" stroke="#2e2a28" stroke-width="0.4" vector-effect="non-scaling-stroke">CBD Fair (Guangzhou)</text>
<text transform="matrix(0.8314 0 0 0.8495 1457.22 105.13)" font-family="'Liberation Sans','Noto Sans CJK SC',sans-serif" font-weight="bold" font-size="100" fill="#302a28" >展区分布图</text>
<text transform="matrix(0.8364 0 0 0.8925 1486.36 211.11)" font-family="'Liberation Sans','Noto Sans CJK SC',sans-serif" font-weight="bold" font-size="100" fill="#302a28" >Hall Plan</text>
<text transform="matrix(1.1176 0 0 1.1310 2830.89 150.27)" font-family="'Liberation Sans','Noto Sans CJK SC',sans-serif" font-weight="bold" font-size="100" fill="#e61f29" >2026.7.8-11</text>
<polygon points="2179.1,108.2 2256.0,137.4 2233.8,150.1" fill="#e8465f" />
<polygon points="2179.1,108.2 2233.8,150.1 2213.5,164.1" fill="#ea6a6a" />
<text transform="matrix(0.857 -0.515 1.04 0.746 2131 108)" font-family="'Liberation Sans','Noto Sans CJK SC',sans-serif" font-size="34" fill="#6d7071">北N</text>
</g>
</svg></body></html>
